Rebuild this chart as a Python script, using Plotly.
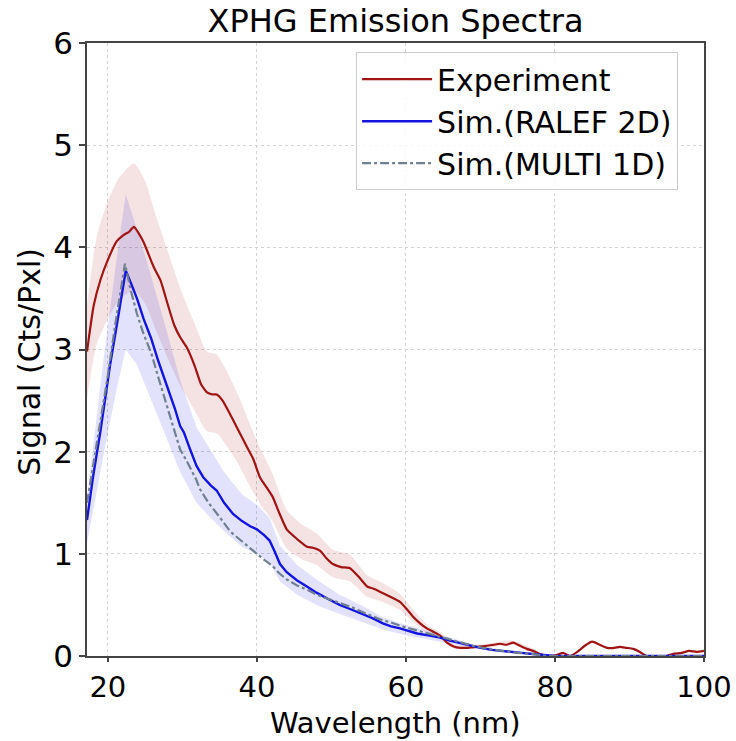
import plotly.graph_objects as go

# ---------------- data ----------------
exp_x = [17.2, 18.1, 19.0, 19.9, 21.2, 22.1, 22.8, 23.5, 24.2, 24.8, 26.2, 27.1, 28.0, 28.9, 29.7,
         30.6, 31.6, 32.5, 33.3, 34.0, 34.6, 35.4, 36.3, 37.3, 38.7, 39.5, 40.4, 41.3, 42.1, 43.0,
         44.0, 45.0, 45.8, 46.7, 47.5, 48.5, 49.3, 50.2, 51.3, 52.5, 53.6, 54.8, 55.6, 56.5, 57.9,
         59.2, 60.1, 60.9, 61.9, 62.8, 63.6, 64.6, 65.5, 66.5, 67.3, 68.2, 69.5, 70.9, 71.8, 72.6,
         73.5, 74.4, 75.3, 76.2, 77.1, 78.0, 79.3, 80.2, 81.1, 82.0, 83.0, 84.0, 85.0, 86.0, 87.0,
         88.0, 88.7, 89.6, 90.5, 91.4, 92.3, 93.5, 95.0, 95.8, 97.0, 98.0, 99.0, 100.0]
exp_y = [2.98, 3.43, 3.68, 3.86, 4.06, 4.12, 4.15, 4.20, 4.13, 4.05, 3.80, 3.67, 3.45, 3.24, 3.12,
         3.02, 2.85, 2.66, 2.58, 2.56, 2.56, 2.50, 2.38, 2.24, 2.04, 1.93, 1.75, 1.65, 1.56, 1.40,
         1.24, 1.17, 1.12, 1.07, 1.06, 1.03, 0.96, 0.90, 0.87, 0.86, 0.78, 0.68, 0.66, 0.63, 0.58,
         0.53, 0.46, 0.39, 0.32, 0.27, 0.24, 0.20, 0.13, 0.09, 0.08, 0.08, 0.09, 0.10, 0.11, 0.12,
         0.11, 0.13, 0.10, 0.07, 0.05, 0.02, 0.00, 0.01, 0.03, 0.00, 0.04, 0.10, 0.14, 0.11, 0.08,
         0.08, 0.09, 0.08, 0.07, 0.04, 0.00, 0.00, 0.00, 0.02, 0.03, 0.05, 0.04, 0.05]

exp_band_x = [17.2, 18.5, 20.0, 21.5, 23.5, 25.0, 26.5, 28.0, 29.7, 31.5, 33.3, 34.6, 36.0, 37.5,
              39.0, 40.5, 42.0, 44.0, 46.0, 48.0, 50.2, 52.5, 54.8, 56.5, 59.2, 61.0, 62.8, 64.6,
              66.5, 70.9, 74.4, 78.0]
exp_band_lo = [2.53, 3.05, 3.30, 3.48, 3.58, 3.45, 3.18, 2.92, 2.65, 2.42, 2.20, 2.18, 2.05, 1.88,
               1.67, 1.48, 1.33, 1.05, 0.95, 0.89, 0.77, 0.73, 0.58, 0.54, 0.45, 0.33, 0.23, 0.17,
               0.07, 0.08, 0.11, 0.01]
exp_band_hi = [3.43, 4.10, 4.45, 4.68, 4.82, 4.65, 4.30, 3.97, 3.60, 3.28, 2.98, 2.95, 2.78, 2.55,
               2.28, 2.02, 1.80, 1.43, 1.29, 1.20, 1.04, 0.99, 0.79, 0.73, 0.61, 0.45, 0.31, 0.23,
               0.11, 0.12, 0.15, 0.03]

ralef_x = [17.2, 18.0, 19.0, 19.5, 20.3, 21.2, 21.8, 22.4, 23.1, 23.9, 24.8, 25.8, 26.8, 27.9, 29.0,
           29.7, 30.2, 31.0, 31.9, 32.8, 33.8, 34.6, 35.6, 36.8, 38.0, 39.1, 40.0, 41.0, 41.7, 42.4,
           43.1, 44.0, 45.4, 46.5, 48.0, 49.5, 51.1, 52.5, 54.2, 55.5, 56.9, 58.0, 59.2, 60.1, 61.5,
           63.2, 64.6, 65.9, 67.0, 68.2, 70.0, 71.5, 72.6, 74.0, 75.5, 77.0, 78.5, 80.0, 85.0, 90.0,
           95.0, 100.0]
ralef_y = [1.33, 1.75, 2.20, 2.46, 2.85, 3.24, 3.52, 3.77, 3.65, 3.50, 3.30, 3.11, 2.88, 2.66, 2.42,
           2.25, 2.19, 2.03, 1.86, 1.75, 1.67, 1.62, 1.50, 1.39, 1.32, 1.27, 1.24, 1.18, 1.13, 1.02,
           0.90, 0.82, 0.74, 0.69, 0.62, 0.56, 0.50, 0.46, 0.41, 0.37, 0.32, 0.29, 0.27, 0.25, 0.22,
           0.20, 0.18, 0.15, 0.13, 0.11, 0.08, 0.06, 0.05, 0.04, 0.03, 0.02, 0.01, 0.00, 0.00, 0.00,
           0.00, 0.00]

ralef_band_x = [17.2, 19.5, 21.2, 22.4, 23.9, 25.8, 27.9, 29.7, 31.9, 33.8, 35.6, 38.0, 40.0, 41.7,
                43.1, 45.4, 48.0, 51.1, 54.2, 56.9, 60.1, 63.2, 65.9, 68.2, 72.6, 77.0, 80.0]
ralef_band_lo = [1.10, 2.00, 2.62, 3.00, 2.85, 2.50, 2.13, 1.80, 1.50, 1.35, 1.22, 1.07, 1.00, 0.92,
                 0.73, 0.60, 0.50, 0.41, 0.33, 0.26, 0.20, 0.16, 0.12, 0.09, 0.04, 0.01, 0.00]
ralef_band_hi = [1.55, 2.95, 3.90, 4.52, 4.18, 3.72, 3.18, 2.70, 2.24, 2.02, 1.80, 1.58, 1.48, 1.35,
                 1.08, 0.89, 0.75, 0.60, 0.49, 0.38, 0.30, 0.24, 0.18, 0.13, 0.06, 0.03, 0.00]

multi_x = [17.2, 18.0, 19.0, 19.9, 21.0, 21.8, 22.3, 23.0, 23.9, 24.8, 25.8, 26.8, 27.9, 29.0, 29.7,
           30.5, 31.9, 32.3, 33.5, 35.0, 36.4, 37.7, 39.0, 40.0, 41.0, 42.1, 43.0, 44.0, 45.4, 46.7,
           48.0, 49.5, 51.5, 53.0, 54.8, 56.5, 57.9, 59.5, 61.5, 63.0, 65.0, 67.0, 69.0, 71.0, 73.0,
           75.0, 77.0, 79.0, 85.0, 90.0, 95.0, 100.0]
multi_y = [1.50, 1.85, 2.30, 2.70, 3.25, 3.62, 3.84, 3.60, 3.35, 3.15, 2.97, 2.72, 2.46, 2.20, 2.02,
           1.92, 1.72, 1.64, 1.50, 1.36, 1.22, 1.14, 1.06, 1.00, 0.94, 0.88, 0.81, 0.75, 0.69, 0.65,
           0.60, 0.56, 0.51, 0.47, 0.41, 0.36, 0.33, 0.29, 0.25, 0.22, 0.18, 0.14, 0.10, 0.07, 0.05,
           0.03, 0.02, 0.00, 0.00, 0.00, 0.00, 0.00]

x_ticks = [20, 40, 60, 80, 100]
y_ticks = [0, 1, 2, 3, 4, 5, 6]

# ---------------- figure ----------------
FONT = "DejaVu Sans"
fig = go.Figure()

fig.add_trace(go.Scatter(
    x=exp_band_x + exp_band_x[::-1], y=exp_band_hi + exp_band_lo[::-1],
    fill="toself", fillcolor="rgba(178,34,34,0.13)", line=dict(width=0, shape="spline", smoothing=0.6),
    mode="lines", showlegend=False, hoverinfo="skip"))
fig.add_trace(go.Scatter(
    x=ralef_band_x + ralef_band_x[::-1], y=ralef_band_hi + ralef_band_lo[::-1],
    fill="toself", fillcolor="rgba(20,20,230,0.12)", line=dict(width=0),
    mode="lines", showlegend=False, hoverinfo="skip"))

fig.add_trace(go.Scatter(x=exp_x, y=exp_y, mode="lines", name="Experiment",
                         line=dict(color="#a01414", width=2.2, shape="spline", smoothing=0.5)))
fig.add_trace(go.Scatter(x=ralef_x, y=ralef_y, mode="lines", name="Sim.(RALEF 2D)",
                         line=dict(color="#1414e0", width=2.4)))
fig.add_trace(go.Scatter(x=multi_x, y=multi_y, mode="lines", name="Sim.(MULTI 1D)",
                         line=dict(color="#708090", width=2.2, dash="dashdot")))

axis_common = dict(
    showline=True, mirror=True, linecolor="#444444", linewidth=1.6,
    ticks="outside", tickwidth=1.5, tickcolor="#444444",
    showgrid=True, gridcolor="#d2d2d2", griddash="dot", gridwidth=1,
    zeroline=False, automargin=False,
)

fig.update_xaxes(range=[17.2, 100], tickvals=x_ticks, ticklen=4,
                 tickfont=dict(family=FONT, size=29, color="black"), **axis_common)
fig.update_yaxes(range=[0, 6], tickvals=y_ticks, ticklen=6,
                 tickfont=dict(family=FONT, size=31, color="black"), **axis_common)

fig.update_layout(
    width=736, height=741,
    margin=dict(l=87, r=32, t=43, b=85),
    plot_bgcolor="white", paper_bgcolor="white",
    title=dict(text="XPHG Emission Spectra", x=0.5, xref="paper", xanchor="center",
               y=0.972, yref="container", yanchor="middle",
               font=dict(family=FONT, size=32, color="black")),
    legend=dict(x=0.958, y=0.985, xanchor="right", yanchor="top",
                bgcolor="rgba(255,255,255,0.85)", bordercolor="#cccccc", borderwidth=1,
                font=dict(family=FONT, size=30, color="black"),
                itemwidth=70, tracegroupgap=2),
    showlegend=True,
    annotations=[
        dict(text="Wavelength (nm)", xref="paper", yref="paper", x=0.5, y=-85 / 613,
             xanchor="center", yanchor="bottom", showarrow=False, borderpad=0,
             font=dict(family=FONT, size=29, color="black")),
        dict(text="Signal (Cts/Pxl)", xref="paper", yref="paper", x=-57 / 617, y=0.48,
             xanchor="center", yanchor="middle", showarrow=False, textangle=-90,
             font=dict(family=FONT, size=30, color="black")),
    ],
)

fig.write_html("out.html")
